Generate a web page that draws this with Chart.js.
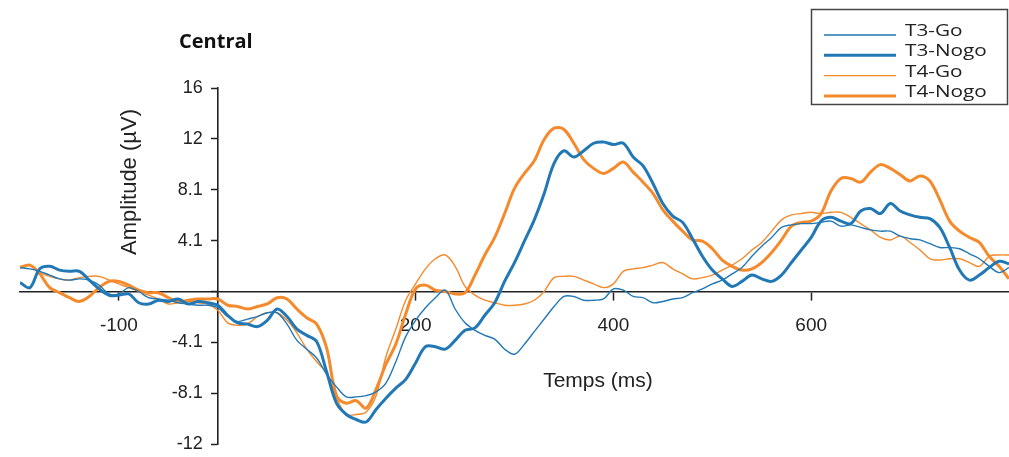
<!DOCTYPE html>
<html>
<head>
<meta charset="utf-8">
<script src="https://cdn.jsdelivr.net/npm/chart.js@4"></script>
<style>
  html, body { margin: 0; padding: 0; background: #ffffff; }
  #wrap { width: 1009px; height: 457px; position: relative; }
</style>
</head>
<body>
<div id="wrap"><canvas id="c" width="1009" height="457"></canvas></div>
<script>
const chartTitle = 'Central';
const xAxisTitle = 'Temps (ms)';
const yAxisTitle = 'Amplitude (µV)';

const times = [-200,-190,-180,-170,-160,-150,-140,-130,-120,-110,
  -100,-90,-80,-70,-60,-50,-40,-30,-20,-10,
  0,10,20,30,40,50,60,70,80,90,
  100,110,120,130,140,150,160,170,180,190,
  200,210,220,230,240,250,260,270,280,290,
  300,310,320,330,340,350,360,370,380,390,
  400,410,420,430,440,450,460,470,480,490,
  500,510,520,530,540,550,560,570,580,590,
  600,610,620,630,640,650,660,670,680,690,
  700,710,720,730,740,750,760,770,780,790,
  800];

const t3Go = [1.9,1.8,1.6,1.3,1.0,0.9,1.0,0.9,0.5,-0.2,
  -0.2,0.3,0.0,-0.5,-0.6,-0.7,-0.9,-1.0,-1.1,-1.1,
  -1.3,-2.0,-2.4,-2.2,-2.0,-1.7,-1.7,-2.6,-3.9,-4.6,
  -5.3,-6.6,-7.6,-8.4,-8.4,-8.3,-8.0,-7.3,-5.6,-3.6,
  -2.3,-1.3,-0.5,0.1,-1.4,-2.5,-3.1,-3.5,-3.8,-4.6,
  -5.0,-4.2,-3.2,-2.2,-1.2,-0.4,-0.4,-0.7,-0.7,-0.6,
  0.2,0.1,-0.4,-0.5,-0.9,-0.8,-0.6,-0.5,-0.1,0.2,
  0.6,0.9,1.4,1.9,2.8,3.6,4.3,5.1,5.3,5.4,
  5.4,5.5,5.6,5.2,5.3,5.1,4.9,4.8,4.8,4.4,
  4.2,4.1,3.8,3.5,3.5,3.4,3.0,2.6,2.0,1.5,
  1.9];

const t3Nogo = [0.7,0.3,1.8,2.0,1.7,1.6,1.6,0.9,0.2,-0.3,
  -0.3,-0.2,-0.9,-1.0,-0.7,-0.8,-0.6,-1.0,-0.8,-0.9,
  -1.1,-1.9,-2.5,-2.6,-2.8,-2.3,-1.4,-2.0,-3.0,-3.5,
  -4.0,-6.4,-8.9,-9.8,-10.2,-10.4,-9.4,-8.5,-7.7,-7.0,
  -5.7,-4.4,-4.4,-4.6,-3.9,-3.1,-2.9,-1.9,-0.9,0.8,
  2.3,4.0,5.7,7.8,10.2,11.2,10.7,11.2,11.8,11.9,
  11.7,11.8,10.7,10.0,8.6,7.0,6.0,5.5,4.2,2.8,
  1.7,1.0,0.4,0.8,1.3,1.0,0.8,1.3,2.3,3.3,
  4.3,5.6,5.9,5.6,5.4,6.4,6.6,6.2,7.0,6.4,
  6.1,5.9,5.8,5.1,3.5,1.7,0.9,1.3,1.9,2.4,
  2.2];

const t4Go = [2.0,2.1,1.5,1.2,1.0,0.9,1.1,1.2,1.2,0.9,
  0.6,0.3,0.0,-0.3,-0.6,-1.0,-0.9,-0.8,-0.9,-1.0,
  -1.5,-2.5,-2.7,-2.6,-2.0,-1.7,-1.7,-2.3,-3.3,-4.6,
  -5.6,-6.5,-8.5,-9.8,-9.8,-9.6,-8.3,-5.2,-3.0,-0.7,
  0.6,1.8,2.6,2.9,2.0,0.4,-0.3,-0.7,-0.9,-1.1,
  -1.1,-1.0,-0.7,0.0,1.1,1.2,1.2,0.9,0.6,0.3,
  0.6,1.6,1.8,1.9,2.1,2.3,1.8,1.4,1.0,1.1,
  1.3,1.7,2.1,2.6,3.3,3.9,4.8,5.7,6.1,6.2,
  6.3,6.2,6.3,6.3,5.9,5.4,4.9,4.3,4.1,4.4,
  3.9,3.3,2.6,2.5,2.6,2.6,2.3,2.0,2.8,2.9,
  2.9];

const t4Nogo = [1.9,2.1,1.4,0.3,-0.1,-0.5,-0.8,-0.4,0.3,0.8,
  0.8,0.5,0.1,-0.1,-0.1,-0.5,-0.8,-0.7,-0.6,-0.6,
  -0.6,-1.1,-1.2,-1.4,-1.2,-1.0,-0.5,-0.6,-1.4,-2.1,
  -2.6,-4.5,-8.3,-8.9,-8.7,-9.3,-7.8,-5.8,-4.2,-1.8,
  0.2,0.5,0.1,0.0,-0.2,-0.1,1.3,2.9,4.3,6.2,
  8.2,9.4,10.4,12.1,13.0,12.9,11.8,10.5,9.8,9.4,
  9.8,10.3,9.5,8.7,7.8,6.5,5.6,4.8,4.1,4.0,
  3.4,2.5,2.0,1.7,1.8,2.3,3.1,4.1,5.2,5.5,
  5.6,6.2,8.0,9.0,9.0,8.7,9.5,10.1,9.8,9.3,
  8.8,9.2,8.8,7.3,5.6,4.8,4.3,3.9,2.8,2.0,
  1.0];

const seriesNames = ['T3-Go', 'T3-Nogo', 'T4-Go', 'T4-Nogo'];
const xTickValues = [-100, 0, 200, 400, 600];
const xTickLabels = ['-100', '', '200', '400', '600'];
const yTickValues = [-12.15, -8.1, -4.05, 0, 4.05, 8.1, 12.15, 16.2];
const yTickLabels = ['-12', '-8.1', '-4.1', '', '4.1', '8.1', '12', '16'];

const BLUE = '#2178b5';
const ORANGE = '#f58a2c';

function pts(vals) { return times.map((t, i) => ({x: t, y: vals[i]})); }

const datasets = [
  {label: seriesNames[0], data: pts(t3Go), borderColor: BLUE, borderWidth: 1.4},
  {label: seriesNames[1], data: pts(t3Nogo), borderColor: BLUE, borderWidth: 3},
  {label: seriesNames[2], data: pts(t4Go), borderColor: ORANGE, borderWidth: 1.4},
  {label: seriesNames[3], data: pts(t4Nogo), borderColor: ORANGE, borderWidth: 3}
].map(d => Object.assign(d, {pointRadius: 0, tension: 0.35, fill: false}));

const Y_TICK_LEN = 6, Y_TICK_PAD = 9;

// Chart.js does not offset y labels for an axis placed at a value; shift them left of the axis.
const shiftYLabels = {
  id: 'shiftYLabels',
  beforeDraw(chart) {
    const items = chart.scales.y.getLabelItems(chart.chartArea);
    items.forEach(it => {
      if (!it._shifted) {
        it.options.translation[0] -= (Y_TICK_LEN + Y_TICK_PAD);
        it._shifted = true;
      }
    });
  }
};

const annot = {
  id: 'annot',
  afterDraw(chart) {
    const ctx = chart.ctx;
    ctx.save();
    ctx.fillStyle = '#111';
    ctx.textAlign = 'left';
    ctx.textBaseline = 'alphabetic';
    ctx.font = 'bold 20px "Open Sans"';
    ctx.fillText(chartTitle, 179, 48);

    ctx.font = '21px "Liberation Sans"';
    ctx.textAlign = 'center';
    ctx.fillStyle = '#222';
    ctx.fillText(xAxisTitle, 598, 387);

    ctx.save();
    ctx.translate(136, 182);
    ctx.rotate(-Math.PI / 2);
    ctx.font = '22px "Liberation Sans"';
    ctx.fillText(yAxisTitle, 0, 0);
    ctx.restore();

    // legend
    ctx.strokeStyle = '#444';
    ctx.lineWidth = 1.5;
    ctx.strokeRect(811.5, 9.5, 196, 95);
    chart.data.datasets.forEach((ds, i) => {
      const y = 35 + i * 20.3;
      ctx.strokeStyle = ds.borderColor;
      ctx.lineWidth = ds.borderWidth;
      ctx.beginPath();
      ctx.moveTo(824, y);
      ctx.lineTo(896, y);
      ctx.stroke();
      ctx.save();
      ctx.translate(905, y + 1);
      ctx.scale(1.22, 1);
      ctx.font = '17px "Open Sans"';
      ctx.textAlign = 'left';
      ctx.fillStyle = '#222';
      ctx.fillText(ds.label, 0, 0);
      ctx.restore();
    });
    ctx.restore();
  }
};

const noPad = s => { s.paddingTop = 0; s.paddingBottom = 0; s.paddingLeft = 0; s.paddingRight = 0; };

new Chart(document.getElementById('c'), {
  type: 'line',
  data: {datasets},
  options: {
    responsive: false,
    animation: false,
    layout: {padding: {left: 20, right: 0, top: 88, bottom: 13}},
    plugins: {legend: {display: false}, title: {display: false}, tooltip: {enabled: false}},
    scales: {
      x: {
        type: 'linear', min: -200, max: 800,
        position: {y: 0},
        afterBuildTicks: s => { s.ticks = xTickValues.map(v => ({value: v})); },
        afterFit: noPad,
        grid: {display: true, drawOnChartArea: false, drawTicks: true, tickLength: 8, tickWidth: 1.5, tickColor: '#222'},
        border: {display: true, color: '#222', width: 1.6},
        ticks: {
          font: {family: 'Liberation Sans', size: 19}, color: '#222', padding: 15, maxRotation: 0, autoSkip: false,
          callback: v => { const i = xTickValues.indexOf(v); return i >= 0 ? xTickLabels[i] : ''; }
        }
      },
      y: {
        type: 'linear', min: -12.15, max: 16.2,
        position: {x: 0},
        afterBuildTicks: s => { s.ticks = yTickValues.map(v => ({value: v})); },
        afterFit: noPad,
        grid: {display: true, drawOnChartArea: false, drawTicks: true, tickLength: Y_TICK_LEN, tickWidth: 1.5, tickColor: '#222'},
        border: {display: true, color: '#222', width: 1.6},
        ticks: {
          font: {family: 'Liberation Sans', size: 18}, color: '#222', padding: Y_TICK_PAD, autoSkip: false,
          callback: v => { const i = yTickValues.indexOf(v); return i >= 0 ? yTickLabels[i] : ''; }
        }
      }
    }
  },
  plugins: [shiftYLabels, annot]
});
</script>
</body>
</html>
